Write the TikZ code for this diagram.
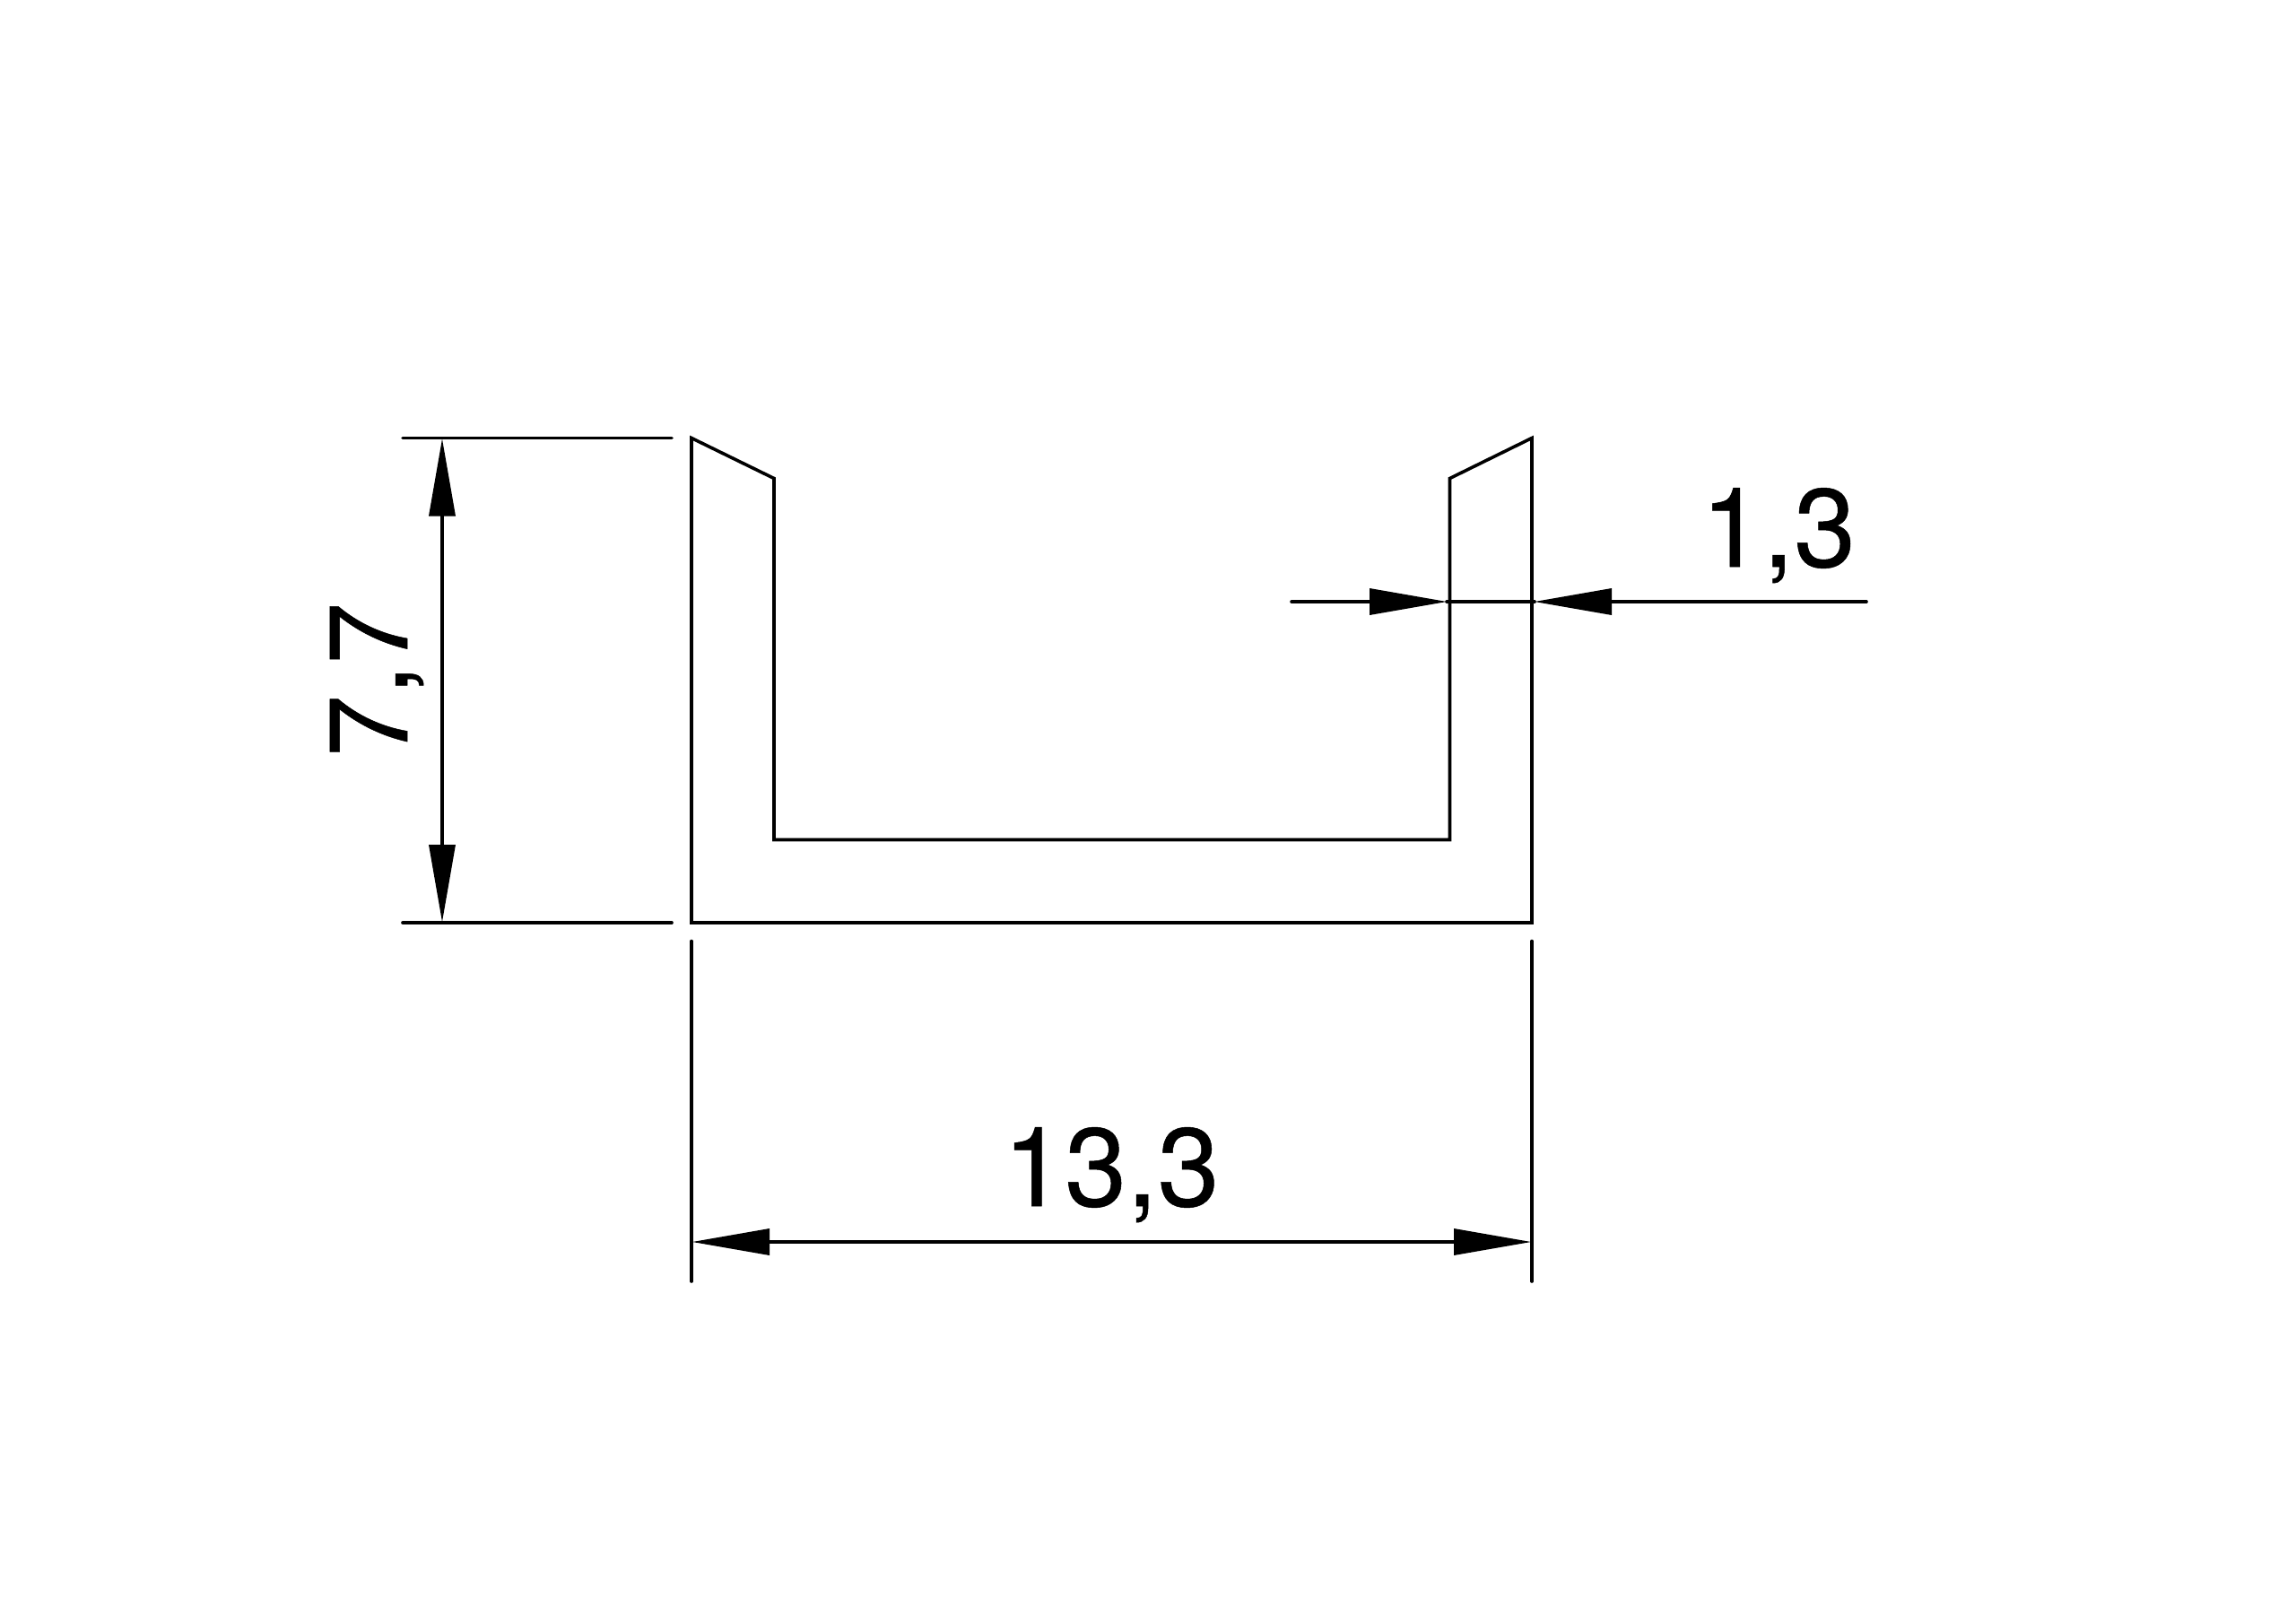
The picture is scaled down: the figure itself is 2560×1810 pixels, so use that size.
\documentclass[tikz,border=0pt]{standalone}
\usepackage{fontspec}
\newfontfamily\dimfont[FakeBold=0.4]{TeX Gyre Heros}
\usetikzlibrary{arrows.meta}
\tikzset{
  x=0.5pt,y=-0.5pt,
  profile/.style={line width=1.8pt,line join=miter,line cap=butt},
  extline/.style={line width=1.8pt,line cap=round},
  dimline/.style={line width=1.8pt,line cap=round},
  dimhead/.tip={Triangle[length=43pt,width=15pt,line width=0pt]},
  dimtext/.style={inner sep=0pt,anchor=base,font=\dimfont\fontsize{62}{70}\selectfont}
}
\begin{document}
\begin{tikzpicture}
\fill[white] (0,0) rectangle (2560,1810);
\useasboundingbox (0,0) rectangle (2560,1810);
% profile corners
\coordinate (o1) at (771,488.5);
\coordinate (i1) at (863,533.5);
\coordinate (i2) at (863,936.5);
\coordinate (i3) at (1616.5,936.5);
\coordinate (i4) at (1616.5,533.5);
\coordinate (o2) at (1708,488.5);
\coordinate (o3) at (1708,1029);
\coordinate (o4) at (771,1029);
\draw[profile] (o1) -- (i1) -- (i2) -- (i3) -- (i4) -- (o2) -- (o3) -- (o4) -- cycle;
% height dimension
\coordinate (ht1) at (449,488.5);
\coordinate (ht2) at (749,488.5);
\coordinate (hb1) at (449,1029);
\coordinate (hb2) at (749,1029);
\coordinate (ha) at (493,489.5);
\coordinate (hb) at (493,1028);
\draw[extline] (ht1) -- (ht2);
\draw[extline] (hb1) -- (hb2);
\draw[dimline,{dimhead}-{dimhead}] (ha) -- (hb);
\node[dimtext,rotate=90] (hlabel) at (454,758) {7,7};
% width dimension
\coordinate (wl1) at (771,1049.5);
\coordinate (wl2) at (771,1429);
\coordinate (wr1) at (1708,1049.5);
\coordinate (wr2) at (1708,1429);
\coordinate (wa) at (772,1385);
\coordinate (wb) at (1707,1385);
\draw[extline] (wl1) -- (wl2);
\draw[extline] (wr1) -- (wr2);
\draw[dimline,{dimhead}-{dimhead}] (wa) -- (wb);
\node[dimtext] (wlabel) at (1239,1345) {13,3};
% wall thickness dimension
\coordinate (ts) at (1440,671);
\coordinate (tin) at (1613,671);
\coordinate (tout) at (1711,671);
\coordinate (te) at (2081,671);
\draw[dimline,-{dimhead}] (ts) -- (tin);
\draw[dimline] (tin) -- (tout);
\draw[dimline,-{dimhead}] (te) -- (tout);
\node[dimtext] (tlabel) at (1983,632) {1,3};
\end{tikzpicture}
\end{document}
